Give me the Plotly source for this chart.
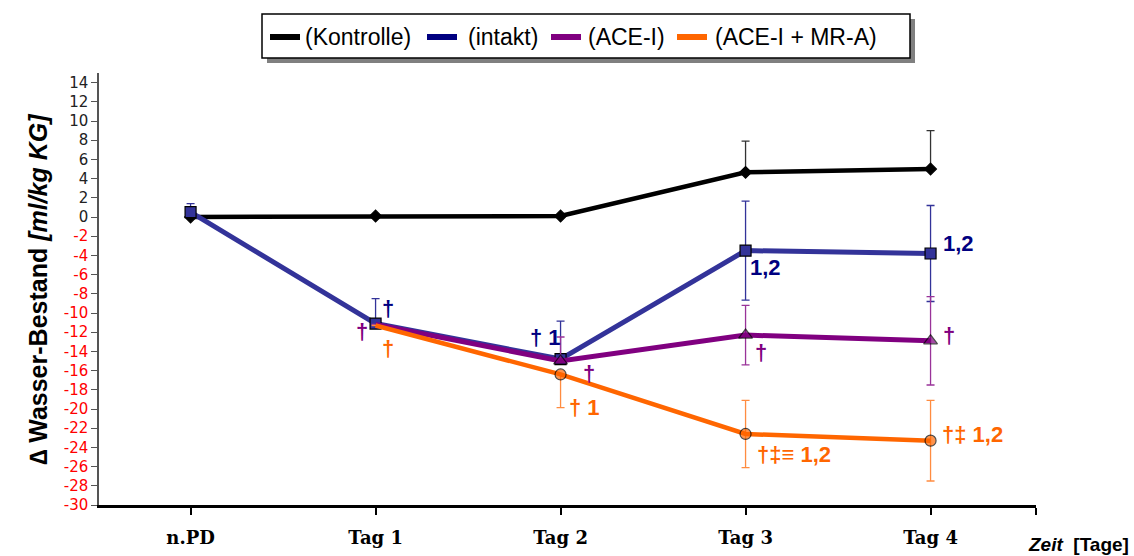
import plotly.graph_objects as go

categories = ["n.PD", "Tag 1", "Tag 2", "Tag 3", "Tag 4"]
x_pos = [0, 1, 2, 3, 4]

kontrolle = [0.0, 0.1, 0.1, 4.65, 5.0]
kontrolle_err_up = [0, 0, 0, 3.25, 4.0]
kontrolle_err_dn = [0, 0, 0, 0, 0]

intakt = [0.5, -11.1, -14.8, -3.5, -3.8]
intakt_err_up = [0.9, 2.6, 3.95, 5.15, 5.0]
intakt_err_dn = [0, 0, 0, 5.15, 5.0]

ace = [None, -11.2, -15.0, -12.3, -12.9]
ace_err_up = [0, 0, 2.5, 3.1, 4.6]
ace_err_dn = [0, 0, 0, 3.1, 4.6]

acemr = [None, -11.3, -16.4, -22.6, -23.3]
acemr_err_up = [0, 0, 0, 3.5, 4.2]
acemr_err_dn = [0, 0, 3.45, 3.5, 4.2]

y_ticks = list(range(-30, 15, 2))

legend_names = ["(Kontrolle)", "(intakt)", "(ACE-I)", "(ACE-I + MR-A)"]

C_K = "#000000"
C_I = "#333399"
C_A = "#800080"
C_M = "#FF6600"

# plot-area geometry (pixels) used to place the hand-built legend
PL, PR, PT, PB = 99, 1036, 73, 505
W, H = 1134, 556


def px(x):
    return (x - PL) / (PR - PL)


def py(y):
    return (PB - y) / (PB - PT)


fig = go.Figure()


def add_series(y, up, dn, color, lw, symbol, msize, ecolor, sizes=None):
    fig.add_trace(go.Scatter(
        x=x_pos, y=y, mode="lines+markers", showlegend=False,
        line=dict(color=color, width=lw),
        marker=dict(symbol=symbol, size=sizes if sizes else msize, color=color,
                    line=dict(color="#000000", width=1.2)),
        error_y=dict(type="data", symmetric=False, array=up, arrayminus=dn,
                     color=ecolor, thickness=1.3, width=4),
        connectgaps=False,
    ))


add_series(kontrolle, kontrolle_err_up, kontrolle_err_dn, C_K, 4.5, "diamond", 9, "#333333")
add_series(intakt, intakt_err_up, intakt_err_dn, C_I, 5, "square", 11, "#333399")
add_series(ace, ace_err_up, ace_err_dn, C_A, 5, "triangle-up", 12, "#993399",
           sizes=[0, 0, 12, 12, 12])
add_series(acemr, acemr_err_up, acemr_err_dn, C_M, 4.5, "circle", 11, "#FF8C40",
           sizes=[0, 0, 11, 11, 11])

ticktext_y = [(f'<span style="color:#FF0000">{v}</span>' if v < 0 else str(v)) for v in y_ticks]

fig.update_layout(
    width=W, height=H,
    margin=dict(l=PL, r=W - PR, t=PT, b=H - PB, autoexpand=False),
    plot_bgcolor="white", paper_bgcolor="white",
    font=dict(family="Liberation Sans, Arial", color="#000000"),
    showlegend=False,
    xaxis=dict(range=[-0.495, 4.57], tickmode="array",
               tickvals=x_pos + [4.57], ticktext=categories + [""],
               showline=True, linecolor="#000000", linewidth=2.5,
               ticks="outside", ticklen=7, tickwidth=2, tickcolor="#000000",
               showgrid=False, zeroline=False, ticklabelstandoff=8,
               tickfont=dict(family="DejaVu Serif", size=18, color="#000000", weight="bold")),
    yaxis=dict(range=[-30, 15], tickmode="array", tickvals=y_ticks, ticktext=ticktext_y,
               showline=True, linecolor="#555555", linewidth=1.5,
               ticks="outside", ticklen=6, tickwidth=1, tickcolor="#555555",
               showgrid=False, zeroline=False,
               tickfont=dict(family="DejaVu Sans", size=15, color="#222222")),
)

# hand-built legend: shadow, box, line swatches, labels
fig.add_shape(type="rect", xref="paper", yref="paper",
              x0=px(267), x1=px(915), y0=py(63), y1=py(19),
              fillcolor="#808080", line=dict(width=0), layer="above")
fig.add_shape(type="rect", xref="paper", yref="paper",
              x0=px(262), x1=px(910), y0=py(58), y1=py(14),
              fillcolor="#FFFFFF", line=dict(color="#000000", width=1.5), layer="above")
swatch_cols = [C_K, "#000080", C_A, C_M]
swatch_x = [270, 427, 551, 677]
text_x = [303, 466, 586, 713]
for name, col, sx, tx in zip(legend_names, swatch_cols, swatch_x, text_x):
    fig.add_shape(type="line", xref="paper", yref="paper",
                  x0=px(sx), x1=px(sx + 30), y0=py(37), y1=py(37),
                  line=dict(color=col, width=6), layer="above")
    fig.add_annotation(xref="paper", yref="paper", x=px(tx), y=py(37),
                       xanchor="left", yanchor="middle", text=name, showarrow=False,
                       font=dict(family="Liberation Sans, Arial", size=23, color="#000000"))

ann_font = "Liberation Sans, Arial"
notes = [
    ("†", 1.066, -9.5, "#000080"),
    ("†", 0.926, -11.9, C_A),
    ("†", 1.066, -13.66, C_M),
    ("† 1", 1.921, -12.6, "#000080"),
    ("†", 2.154, -16.3, C_A),
    ("† 1", 2.127, -19.8, C_M),
    ("1,2", 3.107, -5.23, "#000080"),
    ("†", 3.085, -14.08, C_A),
    ("†‡≡ 1,2", 3.264, -24.7, C_M),
    ("1,2", 4.152, -2.74, "#000080"),
    ("†", 4.097, -12.3, C_A),
    ("†‡ 1,2", 4.227, -22.7, C_M),
]
for t, xx, yy, c in notes:
    fig.add_annotation(x=xx, y=yy, xref="x", yref="y", text=f"<b>{t}</b>",
                       showarrow=False, font=dict(family=ann_font, size=22, color=c))

fig.add_annotation(xref="paper", yref="paper", x=px(22), y=0.5,
                   text="<b>∆ Wasser-Bestand <i>[ml/kg KG]</i></b>", textangle=-90,
                   showarrow=False, font=dict(family=ann_font, size=25, color="#000000"))

fig.add_annotation(xref="paper", yref="paper", x=px(1131), y=py(544),
                   xanchor="right", yanchor="middle",
                   text="<b><i>Zeit</i>  [Tage]</b>", showarrow=False,
                   font=dict(family=ann_font, size=19, color="#000000"))

fig.write_html("out.html", config={"displayModeBar": False},
               post_script="document.body.style.margin='0';")
